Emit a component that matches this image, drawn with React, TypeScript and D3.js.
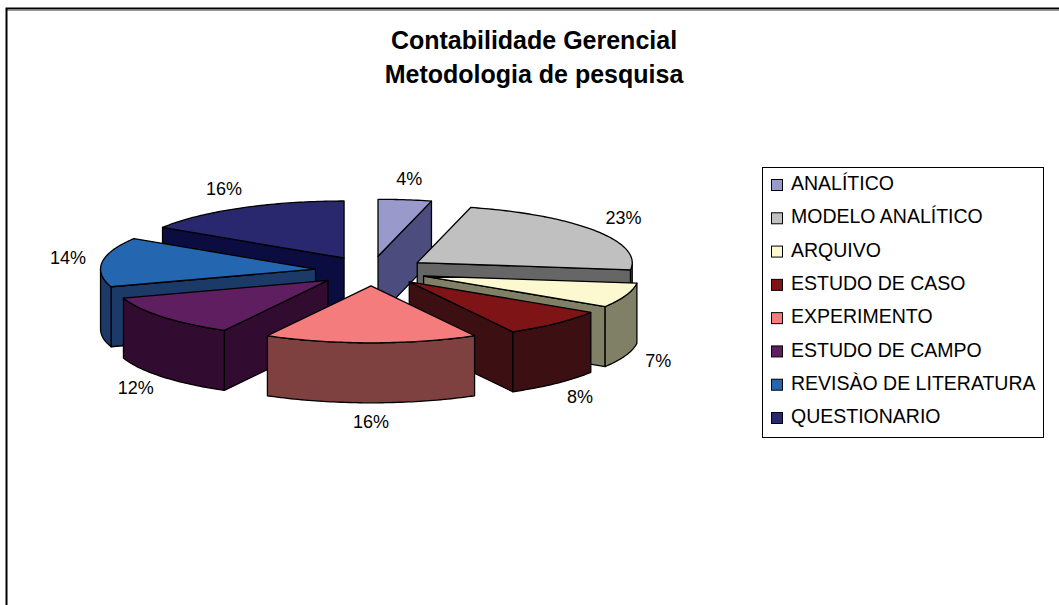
import React from 'react';
import * as d3 from 'd3';

const categories = [
  'ANALÍTICO',
  'MODELO ANALÍTICO',
  'ARQUIVO',
  'ESTUDO DE CASO',
  'EXPERIMENTO',
  'ESTUDO DE CAMPO',
  'REVISÀO DE LITERATURA',
  'QUESTIONARIO',
];
const values = [4, 23, 7, 8, 16, 12, 14, 16];
const topColors = ['#9999cc', '#c0c0c0', '#fcf9d0', '#7f1416', '#f47c7c', '#5f1e5f', '#2566b0', '#29286f'];
const sideColors = ['#4c4c7e', '#666666', '#808066', '#3c0f12', '#7f4040', '#320b30', '#1c3a68', '#0b0c40'];
const titleLines = ['Contabilidade Gerencial', 'Metodologia de pesquisa'];

const FONT = "'Liberation Sans', Arial, sans-serif";

export default function App() {
  const W = 1059;
  const H = 605;
  const cx = 371;
  const cy = 271;
  const rx = 215;
  const ry = 57;
  const depth = 60;
  const explode = 0.26;

  const arcs = d3.pie<number>().sort(null).value((d) => d)(values);
  const total = d3.sum(values);
  const fmt = d3.format('.0%');

  const P = (ox: number, oy: number, a: number, dz = 0): [number, number] => [
    ox + rx * Math.sin(a),
    oy - ry * Math.cos(a) + dz,
  ];
  const arcPts = (ox: number, oy: number, s: number, e: number, dz = 0) => {
    const n = Math.max(2, Math.ceil(((e - s) * 180) / Math.PI));
    const pts: [number, number][] = [];
    for (let k = 0; k <= n; k++) pts.push(P(ox, oy, s + ((e - s) * k) / n, dz));
    return pts;
  };
  const poly = (pts: [number, number][]) =>
    'M' + pts.map((p) => p[0].toFixed(2) + ',' + p[1].toFixed(2)).join('L') + 'Z';

  const slices = arcs.map((a, i) => {
    const a0 = a.startAngle;
    const a1 = a.endAngle;
    const mid = (a0 + a1) / 2;
    const ox = cx + explode * rx * Math.sin(mid);
    const oy = cy - explode * ry * Math.cos(mid);
    const faces: { d: string; fill: string }[] = [];
    if (Math.sin(a0) < -1e-6) {
      faces.push({
        d: poly([[ox, oy], P(ox, oy, a0), P(ox, oy, a0, depth), [ox, oy + depth]]),
        fill: sideColors[i],
      });
    }
    if (Math.sin(a1) > 1e-6) {
      faces.push({
        d: poly([[ox, oy], P(ox, oy, a1), P(ox, oy, a1, depth), [ox, oy + depth]]),
        fill: sideColors[i],
      });
    }
    const s = Math.max(a0, Math.PI / 2);
    const e = Math.min(a1, (3 * Math.PI) / 2);
    if (e > s) {
      const topA = arcPts(ox, oy, s, e);
      const botA = arcPts(ox, oy, s, e, depth).reverse();
      faces.push({ d: poly([...topA, ...botA]), fill: sideColors[i] });
    }
    faces.push({ d: poly([[ox, oy], ...arcPts(ox, oy, a0, a1)]), fill: topColors[i] });
    const lx = ox + rx * 1.16 * Math.sin(mid);
    const ly = oy - ry * 1.35 * Math.cos(mid) + (Math.cos(mid) < 0 ? depth : 0);
    return { i, mid, faces, lx, ly, label: fmt(values[i] / total) };
  });

  const order = [...slices].sort((p, q) => Math.cos(q.mid) - Math.cos(p.mid));

  const legendX = 762;
  const legendY = 167;
  const legendW = 281;
  const legendH = 270;
  const rowY = d3.scaleLinear().domain([0, categories.length - 1]).range([185, 418]);

  return (
    <svg
      width={W}
      height={H}
      viewBox={`0 0 ${W} ${H}`}
      style={{ position: 'absolute', left: 0, top: 0, background: '#fff' }}
      fontFamily={FONT}
    >
      <rect x={0} y={0} width={W} height={H} fill="#fff" />
      <line x1={7} y1={10.5} x2={W} y2={10.5} stroke="#999" strokeWidth={1} />
      <rect x={6.5} y={8.5} width={W + 20} height={H + 20} fill="none" stroke="#000" strokeWidth={2} />
      {titleLines.map((t, k) => (
        <text
          key={k}
          x={534}
          y={49 + k * 34}
          textAnchor="middle"
          fontWeight="bold"
          fontSize={25}
          fill="#000"
        >
          {t}
        </text>
      ))}
      {order.map((sl) => (
        <g key={sl.i}>
          {sl.faces.map((f, k) => (
            <path key={k} d={f.d} fill={f.fill} stroke="#000" strokeWidth={1.3} strokeLinejoin="round" />
          ))}
        </g>
      ))}
      {slices.map((sl) => (
        <text
          key={'l' + sl.i}
          x={sl.lx}
          y={sl.ly}
          textAnchor="middle"
          dominantBaseline="middle"
          fontSize={18}
          fill="#000"
        >
          {sl.label}
        </text>
      ))}
      <rect x={legendX + 0.5} y={legendY + 0.5} width={legendW} height={legendH} fill="#fff" stroke="#000" strokeWidth={1} />
      {categories.map((c, k) => (
        <g key={c}>
          <rect
            x={771.5}
            y={rowY(k) - 5.5}
            width={11}
            height={11}
            fill={topColors[k]}
            stroke="#000"
            strokeWidth={1}
          />
          <text x={791} y={rowY(k)} dominantBaseline="middle" fontSize={19.5} fill="#000">
            {c}
          </text>
        </g>
      ))}
    </svg>
  );
}
